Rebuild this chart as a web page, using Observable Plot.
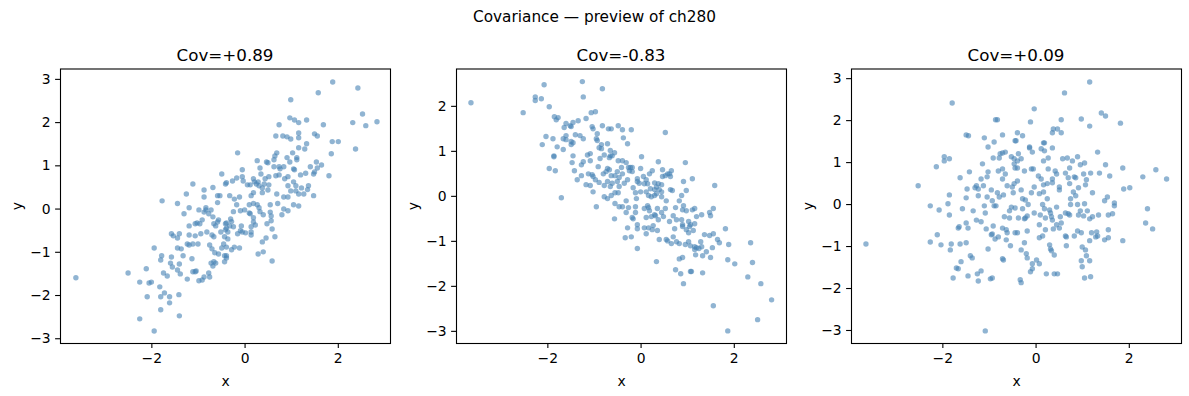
<!DOCTYPE html>
<html><head><meta charset="utf-8">
<script src="https://cdn.jsdelivr.net/npm/d3@7"></script>
<script src="https://cdn.jsdelivr.net/npm/@observablehq/plot@0.6"></script>
<style>
body{margin:0;background:#fff;font-family:"DejaVu Sans",sans-serif;color:#000;}
#root{position:relative;width:1189px;height:396px;overflow:hidden;background:#fff;}
.sup{position:absolute;left:0;width:1189px;top:7px;text-align:center;font-size:15.3px;line-height:20px;}
.ttl{position:absolute;top:44px;width:330px;text-align:center;font-size:16.7px;line-height:22px;}
.pan{position:absolute;top:60px;}
</style></head>
<body><div id="root"></div>
<script>
const suptitle = "Covariance — preview of ch280";
const titles = ["Cov=+0.89", "Cov=-0.83", "Cov=+0.09"];
const xTicks = [-2, 0, 2];
const xDomain = [-3.96, 3.12];
const yTicks1 = [-3, -2, -1, 0, 1, 2, 3];
const yTicks2 = [-3, -2, -1, 0, 1, 2];
const yTicks3 = [-3, -2, -1, 0, 1, 2, 3];
const yDomain1 = [-3.11, 3.24];
const yDomain2 = [-3.27, 2.83];
const yDomain3 = [-3.31, 3.23];

// Panel 1 (x, y) pairs
const pts1 = [
[-1.78,0.19],[-1.45,0.13],[-1.26,0.35],[-1.12,0.58],[-0.88,0.44],[-0.88,0.28],[-0.69,0.50],[-0.50,0.81],[-0.59,0.31],[-0.54,0.31],[-0.42,0.58],[-0.59,0.15],
[1.88,2.94],[2.42,2.80],[1.57,2.69],[0.98,2.53],[2.52,2.20],[2.31,2.00],[2.59,1.93],[2.83,2.02],[0.96,2.11],[1.06,2.06],[1.15,2.00],[1.32,2.06],[0.73,1.95],[1.68,1.95],[0.66,1.69],[0.81,1.69],[0.90,1.67],[0.98,1.62],[1.15,1.76],[1.15,1.65],[1.49,1.74],[1.55,1.69],[1.87,1.56],[2.00,1.56],[1.32,1.51],[1.15,1.42],[1.28,1.39],[2.37,1.39],[-0.16,1.30],[0.68,1.30],[0.64,1.23],[1.02,1.30],[1.85,1.28],[0.62,1.14],[0.90,1.19],[1.11,1.19],[0.26,1.12],[0.46,1.09],[0.49,1.07],[0.96,1.09],[1.11,1.14],[1.53,1.09],[0.32,0.95],[0.62,0.98],[0.73,0.98],[0.75,0.93],[0.83,0.98],[1.04,0.93],[1.06,0.91],[1.40,0.98],[1.64,1.02],[1.55,0.95],[1.49,0.86],[1.47,0.81],[-0.06,0.91],[0.34,0.81],[1.80,0.77],[1.19,0.79],[1.30,0.83],[0.92,0.75],[0.66,0.77],[0.73,0.79],[0.51,0.75],[0.43,0.70],[0.85,0.70],[-0.40,0.61],[-0.27,0.65],[-0.18,0.72],[-0.06,0.75],[-0.04,0.65],[0.18,0.70],[0.20,0.63],[0.05,0.56],[0.11,0.56],[0.24,0.58],[0.28,0.63],[0.30,0.54],[0.41,0.58],[0.51,0.56],[0.92,0.54],[1.04,0.63],[1.09,0.54],[1.36,0.54],[1.21,0.49],[1.34,0.45],[1.09,0.42],[1.15,0.35],[1.47,0.31],[-0.33,0.31],[-0.12,0.28],[-0.23,0.23],[0.13,0.31],[0.18,0.38],[0.37,0.38],[0.37,0.49],[0.49,0.44],[0.68,0.35],[0.83,0.28],[0.92,0.28],[0.98,0.42],[1.26,0.35],
[-0.18,0.10],[0.09,0.10],[0.18,0.13],[0.26,0.10],[0.54,0.10],[0.70,0.13],[1.04,0.10],[1.15,0.07],[0.83,0.00],[0.92,-0.04],[0.79,-0.13],[-0.25,-0.06],[-0.10,-0.04],[-0.01,-0.02],[0.09,-0.09],[0.30,0.03],[0.32,-0.06],[0.11,-0.11],[0.39,-0.13],[0.54,-0.07],[0.56,-0.16],[0.56,-0.27],[0.47,-0.34],[0.18,-0.20],[0.18,-0.30],[0.22,-0.37],[0.13,-0.41],[0.13,-0.60],[0.13,-0.53],[0.01,-0.55],[-0.08,-0.39],[-0.10,-0.50],[-0.16,-0.57],[-0.06,-0.53],[-0.25,-0.41],[-0.33,-0.39],[-0.29,-0.29],[-0.31,-0.23],[-0.40,-0.32],[-0.40,-0.44],[-0.37,-0.53],[-0.37,-0.69],[0.58,-0.46],[0.64,-0.64],[0.45,-0.67],[0.37,-0.76],[-0.40,-0.88],[-0.23,-0.88],[-0.12,-0.90],[-0.29,-0.94],[-0.40,-1.08],[-0.40,-1.13],[0.39,-0.99],[0.28,-1.04],[0.58,-1.20],
[-3.63,-1.59],[-2.51,-1.48],[-2.26,-1.69],[-2.12,-1.38],[-2.06,-1.71],[-2.01,-1.69],[-2.10,-2.03],[-2.26,-2.54],[-1.95,-2.82],[-1.81,-2.33],[-1.83,-1.80],[-1.81,-2.03],[-1.73,-1.94],[-1.62,-2.03],[-1.62,-2.17],[-1.42,-1.98],[-1.41,-2.47],[-1.95,-0.90],[-1.81,-1.18],[-1.79,-1.08],[-1.75,-1.48],[-1.67,-1.55],[-1.58,-1.11],[-1.60,-1.25],[-1.56,-1.34],[-1.45,-1.41],[-1.39,-1.50],[-1.41,-1.27],[-1.33,-1.08],[-1.45,-0.90],[-1.37,-0.92],[-1.58,-0.57],[-1.54,-0.62],[-1.45,-0.67],[-1.41,-0.57],[-1.31,-0.11],[-1.20,0.03],[-1.14,-1.15],[-1.24,-1.62],[-1.20,-0.39],[-1.20,-0.60],[-1.07,-0.62],[-1.24,-0.81],[-1.20,-0.83],[-1.12,-0.81],[-1.12,-1.45],[-1.07,-1.45],[-1.05,-1.43],[-0.99,-1.66],[-0.92,-1.64],[-0.88,-1.57],[-0.78,-1.48],[-0.76,-1.57],[-1.01,-0.81],[-0.95,-0.57],[-0.82,-0.53],[-0.97,-0.34],[-1.07,-0.34],[-1.03,-0.32],[-0.92,-0.25],[-0.99,-0.02],[-0.84,-0.02],[-0.73,-0.02],[-0.84,0.03],[-0.88,-0.07],[-0.78,-0.11],[-0.69,-0.18],[-0.59,-0.30],[-0.57,-0.25],[-0.67,-0.34],[-0.63,-0.39],[-0.52,-0.53],[-0.44,-0.64],[-0.46,-0.81],[-0.50,-0.90],[-0.44,-1.08],[-0.44,-1.22],[-0.67,-1.22],[-0.63,-1.25],[-0.73,-1.25],[-0.69,-1.32],[-0.57,-1.04],[-0.65,-1.01],[-0.71,-0.92],[-0.76,-0.83],[-0.67,-0.64],[-0.71,-0.60],[-0.42,-0.34],[-0.42,-0.48]
];

// Panel 2 (x, y) pairs
const pts2 = [
[-3.65,2.08],[-2.53,1.86],[-2.08,2.48],[-2.27,2.21],[-2.27,2.13],[-2.14,2.17],[-1.97,1.99],[-1.26,2.55],[-1.24,2.21],[-0.83,2.39],[-1.07,1.86],[-0.98,1.88],[-1.18,1.73],[-1.86,1.77],[-1.78,1.75],[-1.82,1.70],[-1.61,1.62],[-1.46,1.64],[-1.35,1.68],[-1.50,1.55],[-1.52,1.57],[-1.65,1.53],[-1.05,1.55],[-1.03,1.50],[-0.83,1.57],[-0.70,1.50],[-0.64,1.50],[-0.49,1.57],[-2.04,1.33],[-1.89,1.28],[-2.12,1.15],[-1.80,1.10],[-1.67,1.04],[-1.67,1.28],[-1.61,1.26],[-1.61,1.35],[-1.41,1.37],[-1.31,1.35],[-1.24,1.28],[-1.50,1.22],[-1.50,1.15],[-1.46,1.19],[-0.94,1.39],[-0.96,1.28],[-0.94,1.24],[-0.85,1.15],[-0.90,1.08],[-0.85,1.06],[-0.72,1.17],[-1.87,0.90],[-1.87,0.88],[-1.46,0.90],[-1.09,0.95],[-1.15,0.92],[-0.79,0.92],[-0.66,1.02],[-0.66,0.90],[-0.68,0.86],[-0.62,0.90],[-0.57,0.97],[-1.97,0.62],[-1.84,0.57],[-1.48,0.75],[-1.43,0.57],[-1.28,0.70],[-1.24,0.77],[-1.09,0.79],[-0.88,0.84],[-0.92,0.66],[-0.72,0.62],[-0.68,0.59],[-0.75,0.55],[-0.81,0.50],[-0.64,0.46],[-0.49,0.79],[-0.42,0.64],[-0.51,0.55],[-0.56,0.46],[-0.47,0.42],[-0.51,0.33],[-0.62,0.29],[-1.28,0.46],[-1.13,0.50],[-1.05,0.48],[-1.03,0.44],[-1.37,0.37],[-1.18,0.26],[-1.09,0.24],[-0.98,0.37],[-0.90,0.31],[-0.79,0.24],[-0.72,0.33],[-0.66,0.22],[-1.03,0.10],[-0.79,-0.01],[-0.64,0.02],[-0.72,-0.05],[-0.56,0.08],[-0.49,0.08],[-0.47,0.22],[-1.71,-0.03],
[-0.40,1.48],[-0.21,1.48],[-0.38,1.30],[-0.29,1.17],[0.52,1.42],[0.01,0.88],[0.37,0.77],[0.95,0.75],[-0.40,0.79],[-0.32,0.75],[-0.27,0.64],[-0.23,0.64],[-0.19,0.64],[-0.25,0.57],[-0.19,0.55],[-0.40,0.50],[-0.29,0.37],[-0.36,0.29],[-0.01,0.62],[0.24,0.57],[0.18,0.50],[-0.08,0.39],[0.05,0.44],[0.11,0.37],[-0.04,0.29],[-0.08,0.33],[-0.17,0.19],[0.46,0.59],[0.65,0.57],[0.57,0.50],[0.46,0.44],[0.52,0.46],[0.63,0.44],[0.61,0.50],[1.10,0.39],[0.91,0.33],[1.58,0.24],[0.97,0.13],[0.63,0.15],[0.67,0.13],[0.07,0.28],[0.14,0.28],[0.29,0.30],[0.37,0.28],[0.44,0.26],[0.33,0.21],[0.20,0.17],[0.29,0.15],[0.39,0.15],[0.44,0.10],[0.11,0.10],[-0.01,0.10],[-0.12,0.08],[-0.10,-0.05],[-0.32,-0.10],[0.16,0.02],[0.22,-0.01],[0.29,0.02],[0.33,0.06],[0.44,-0.01],[0.54,-0.10],[0.87,0.02],[0.82,-0.10],
[-0.40,-0.23],[-0.27,-0.25],[-0.12,-0.23],[-0.32,-0.36],[-0.12,-0.36],[-0.19,-0.47],[-0.17,-0.50],[0.07,-0.27],[0.16,-0.25],[0.14,-0.21],[0.18,-0.32],[0.29,-0.41],[0.35,-0.27],[0.44,-0.36],[0.52,-0.27],[0.11,-0.47],[0.22,-0.45],[0.31,-0.43],[0.48,-0.45],[0.37,-0.52],[0.74,-0.25],[0.91,-0.21],[0.89,-0.30],[0.97,-0.32],[1.15,-0.27],[1.10,-0.30],[1.30,-0.41],[1.19,-0.45],[1.47,-0.36],[1.49,-0.43],[1.55,-0.27],[0.61,-0.56],[0.69,-0.43],[0.76,-0.52],[0.87,-0.52],[0.72,-0.72],[0.89,-0.63],[1.02,-0.56],[1.06,-0.63],[0.89,-0.67],[1.04,-0.67],[0.97,-0.74],[1.12,-0.76],[1.15,-0.61],[1.02,-0.81],[-0.29,-0.70],[-0.08,-0.63],[-0.08,-0.72],[0.07,-0.70],[0.16,-0.70],[0.26,-0.65],[0.24,-0.74],[0.35,-0.76],[0.11,-0.83],[-0.34,-0.92],[-0.21,-0.90],[-0.08,-1.16],[0.39,-0.96],[0.54,-0.96],[0.57,-0.99],[0.65,-1.05],[0.69,-0.90],[0.76,-1.01],[0.82,-1.05],[0.95,-1.07],[1.02,-1.01],[1.06,-1.10],[1.15,-1.12],[1.19,-1.14],[1.24,-1.16],[1.15,-1.18],[1.28,-1.01],[1.36,-0.85],[1.47,-0.87],[1.55,-0.83],[1.30,-1.12],[1.17,-1.30],[1.32,-1.32],[1.40,-1.23],[1.49,-1.36],[1.53,-1.14],[1.64,-0.96],[1.68,-1.03],[1.81,-0.72],[1.88,-1.07],[2.35,-1.03],[1.86,-1.41],[2.01,-1.50],[2.39,-1.47],[0.33,-1.45],[0.82,-1.39],[0.89,-1.36],[0.74,-1.63],[0.85,-1.72],[0.91,-1.94],[1.06,-1.67],[1.08,-1.67],[1.32,-1.70],[1.55,-2.43],[2.29,-1.79],[2.57,-1.94],[2.80,-2.30],[2.50,-2.74],[1.86,-2.99],
[-0.96,-0.23],[-0.57,-0.50],[-0.56,-0.16],[-0.47,-0.23]
];

// Panel 3 (x, y) pairs
const pts3 = [
[-1.80,2.42],[-0.87,2.02],[-0.83,2.02],[-1.50,1.66],[-1.45,1.64],[-1.11,1.59],[-0.90,1.49],[-0.72,1.66],[-0.45,1.52],[-1.03,1.37],[-0.77,1.21],[-0.72,1.23],[-0.66,1.25],[-1.97,1.14],[-1.97,1.04],[-1.86,1.09],[-2.14,0.90],[-0.92,1.11],[-0.79,1.11],[-0.53,1.14],[-0.47,1.09],[-0.47,0.97],[-0.45,0.87],[-1.15,0.97],[-1.43,0.78],[-1.63,0.64],[-1.03,0.78],[-1.05,0.66],[-1.18,0.61],[-0.81,0.80],[-0.72,0.85],[-0.66,0.73],[-0.72,0.61],[-0.62,0.45],[-0.51,0.42],[-0.47,0.50],[-2.53,0.45],[-1.86,0.23],[-1.48,0.37],[-1.28,0.45],[-1.31,0.40],[-1.24,0.37],[-1.13,0.45],[-1.50,0.16],[-1.24,0.21],[-1.05,0.18],[-0.96,0.35],[-0.83,0.28],[-0.79,0.18],[-0.70,0.23],[-0.94,0.09],[-0.49,0.28],
[1.15,2.92],[0.61,2.66],[-0.04,2.28],[1.40,2.18],[1.49,2.11],[1.81,1.94],[0.97,2.04],[1.15,1.87],[0.54,2.02],[-0.12,1.97],[0.37,1.80],[0.46,1.80],[0.35,1.71],[0.54,1.71],[-0.40,1.71],[-0.29,1.64],[-0.43,1.52],[0.16,1.47],[0.18,1.47],[-0.14,1.37],[-0.14,1.35],[-0.08,1.25],[0.11,1.33],[0.18,1.28],[0.35,1.35],[1.32,1.25],[-0.38,1.21],[-0.32,1.09],[-0.40,1.04],[0.16,1.04],[0.26,1.11],[0.57,1.09],[0.67,1.11],[0.78,1.04],[0.89,1.14],[0.95,0.95],[1.04,0.99],[1.49,0.95],[1.86,0.87],[2.57,0.83],[2.29,0.66],[2.80,0.61],[1.58,0.68],[1.36,0.75],[1.17,0.75],[1.02,0.73],[-0.40,0.87],[-0.25,0.80],[-0.10,0.85],[-0.06,0.85],[0.26,0.85],[0.41,0.80],[0.44,0.73],[0.63,0.75],[0.72,0.87],[0.05,0.68],[0.11,0.61],[-0.40,0.56],[-0.04,0.42],[0.16,0.47],[0.24,0.50],[0.35,0.52],[0.35,0.61],[0.50,0.42],[0.69,0.64],[0.72,0.50],[0.82,0.66],[0.85,0.64],[1.08,0.59],[1.06,0.47],[0.91,0.40],[1.21,0.28],[1.53,0.18],[1.47,0.09],[1.88,0.37],[2.01,0.40],[-0.32,0.35],[-0.29,0.14],[-0.23,0.11],[-0.10,0.28],[0.07,0.26],[0.16,0.30],[0.24,0.14],[0.50,0.35],[0.80,0.30],[0.85,0.21],[0.74,0.14],[1.04,0.02],[1.68,0.04],
[-3.65,-0.94],[-2.27,-0.03],[-2.08,-0.13],[-1.89,0.02],[-1.86,-0.25],[-2.27,-0.89],[-2.12,-0.72],[-2.04,-0.96],[-1.82,-0.94],[-1.84,-1.08],[-1.58,-0.10],[-1.35,-0.15],[-1.50,-0.44],[-1.46,-0.56],[-1.67,-0.56],[-1.65,-0.53],[-1.28,-0.37],[-1.18,-0.41],[-1.11,-0.03],[-1.09,-0.20],[-1.07,-0.58],[-0.92,-0.51],[-0.90,-0.03],[-0.86,-0.03],[-1.63,-0.94],[-1.50,-0.91],[-1.41,-1.22],[-1.37,-1.27],[-1.61,-1.36],[-1.71,-1.51],[-1.67,-1.53],[-1.78,-1.75],[-1.46,-1.70],[-1.26,-1.65],[-1.18,-1.58],[-1.24,-1.82],[-0.98,-1.77],[-0.94,-1.75],[-1.03,-1.06],[-0.72,-1.29],[-0.70,-1.32],[-0.96,-0.72],[-0.88,-0.82],[-0.81,-0.77],[-0.94,-0.70],[-0.72,-0.56],[-0.64,-0.60],[-0.62,-0.67],[-0.64,-0.84],[-0.55,-0.98],[-0.57,-0.15],[-0.68,-0.29],[-0.57,-0.32],[-0.45,-0.08],[-0.53,-0.06],[-0.45,-0.67],[-1.09,-3.01],
[-0.29,-0.10],[-0.38,-0.32],[-0.25,-0.34],[-0.23,-0.32],[-0.19,-0.27],[-0.17,0.00],[-0.04,-0.20],[0.09,-0.25],[0.14,0.00],[0.18,-0.10],[0.29,-0.13],[0.20,-0.32],[0.31,-0.20],[0.33,-0.29],[0.35,-0.37],[0.37,-0.58],[0.44,-0.06],[0.52,-0.29],[0.54,-0.44],[0.50,-0.56],[0.44,-0.48],[0.63,-0.20],[0.72,-0.25],[0.69,-0.22],[-0.40,-0.67],[-0.19,-0.63],[0.07,-0.48],[0.07,-0.79],[0.14,-0.75],[0.20,-0.60],[-0.25,-0.91],[-0.32,-1.08],[-0.21,-1.17],[-0.19,-1.27],[0.01,-1.32],[0.07,-1.41],[-0.08,-1.41],[-0.08,-1.53],[-0.12,-1.60],[-0.34,-1.79],[-0.32,-1.86],[0.29,-0.96],[0.31,-1.06],[0.33,-1.10],[0.39,-1.20],[0.22,-1.65],[0.39,-1.65],[0.46,-1.65],[0.63,-0.75],[0.65,-0.77],[0.65,-0.98],[0.82,-0.75],[0.89,-0.63],[0.97,-0.67],[0.99,-1.01],[1.06,-1.08],[1.08,-1.22],[0.97,-1.34],[0.99,-1.48],[1.15,-1.34],[1.04,-1.75],[1.17,-1.72],[0.74,0.00],[0.89,0.00],[0.91,-0.25],[0.95,-0.15],[1.10,-0.15],[1.02,-0.27],[1.15,-0.34],[1.21,-0.29],[1.34,-0.25],[1.19,-0.67],[1.30,-0.65],[1.28,-0.77],[1.32,-0.75],[1.15,-0.86],[1.47,-0.84],[1.55,-0.79],[1.55,-0.60],[1.55,-0.25],[1.64,-0.22],[1.68,-0.03],[1.86,-0.86],[2.35,-0.44],[2.39,-0.10],[2.50,-0.58]
];

const panels = [
  {pts: pts1, yDomain: yDomain1, yTicks: yTicks1, title: titles[0], left: 0},
  {pts: pts2, yDomain: yDomain2, yTicks: yTicks2, title: titles[1], left: 396},
  {pts: pts3, yDomain: yDomain3, yTicks: yTicks3, title: titles[2], left: 791}
];

const fmt = d => (d < 0 ? "\u2212" : "") + Math.abs(d);

const root = document.getElementById("root");
const sup = document.createElement("div");
sup.className = "sup"; sup.textContent = suptitle;
root.appendChild(sup);

for (const p of panels) {
  const data = p.pts.map(([x, y]) => ({x, y}));
  const chart = Plot.plot({
    width: 396, height: 335,
    marginLeft: 60, marginRight: 6, marginTop: 8.5, marginBottom: 52,
    style: {fontFamily: "DejaVu Sans", fontSize: "13.9px", color: "black", background: "transparent", overflow: "visible"},
    x: {domain: xDomain, label: null},
    y: {domain: p.yDomain, label: null},
    marks: [
      Plot.dot(data, {x: "x", y: "y", r: 2.7, fill: "steelblue", fillOpacity: 0.6, stroke: null}),
      Plot.axisX({ticks: xTicks, tickFormat: fmt, tickSize: 4.9, tickPadding: 4.9, stroke: "black", strokeWidth: 1.1, fill: "black",
        label: "x", labelAnchor: "center", labelArrow: "none", labelOffset: 42}),
      Plot.axisY({ticks: p.yTicks, tickFormat: fmt, tickSize: 4.9, tickPadding: 4.9, stroke: "black", strokeWidth: 1.1, fill: "black",
        label: "y", labelAnchor: "center", labelArrow: "none", labelOffset: 48}),
      Plot.frame({stroke: "black", strokeWidth: 1.1})
    ]
  });
  const wrap = document.createElement("div");
  wrap.className = "pan"; wrap.style.left = p.left + "px";
  wrap.appendChild(chart);
  root.appendChild(wrap);
  const t = document.createElement("div");
  t.className = "ttl"; t.style.left = (p.left + 60) + "px"; t.textContent = p.title;
  root.appendChild(t);
}
</script>
</body></html>
